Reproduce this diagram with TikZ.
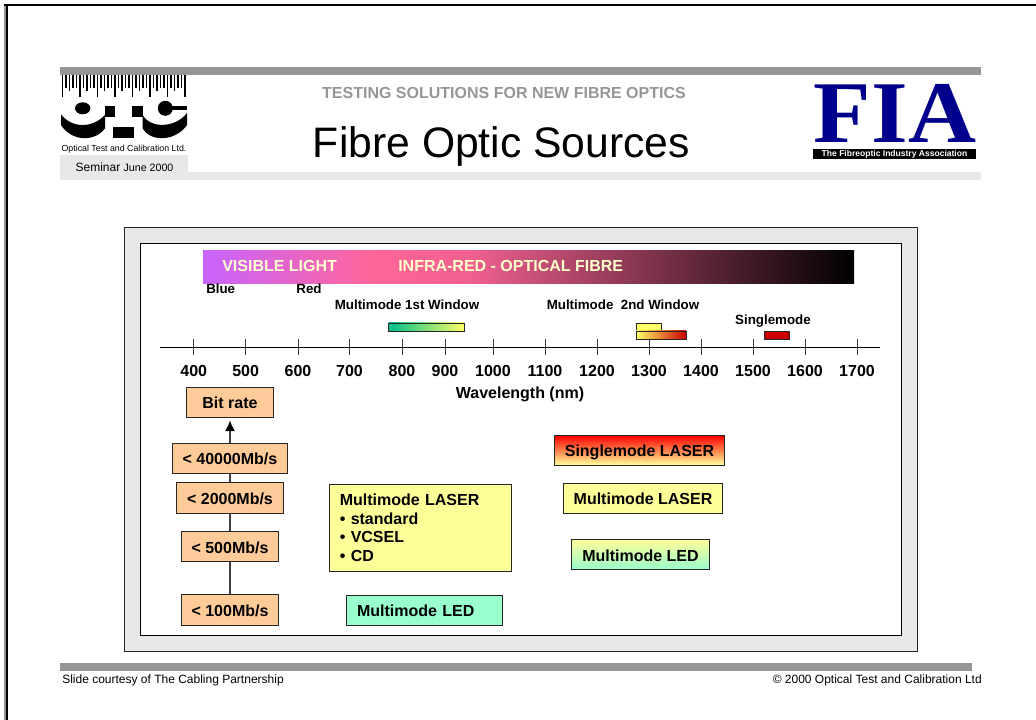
\documentclass[tikz,border=0pt]{standalone}
\usepackage{fontspec}
\setmainfont{Liberation Sans}
\newfontfamily\fiafont{Liberation Serif}
\usetikzlibrary{calc,positioning,arrows,arrows.meta}
\definecolor{barGray}{HTML}{969696}
\definecolor{paleGray}{HTML}{E8E8E8}
\definecolor{rateOrange}{HTML}{FFCC99}
\definecolor{paleYellow}{HTML}{FFFF99}
\definecolor{paleGreen}{HTML}{99FFCC}
\definecolor{fiaBlue}{HTML}{00008C}
\definecolor{winRed}{HTML}{CC0000}
\definecolor{winYellow}{HTML}{FFFF66}
\definecolor{winGreen}{HTML}{00C08C}
\definecolor{lightText}{HTML}{FFFFCC}
\pgfdeclarehorizontalshading{spectrum}{100bp}{rgb(0bp)=(0.784,0.392,1);
  rgb(25bp)=(0.784,0.392,1);rgb(38bp)=(1,0.4,0.6);
  rgb(45.5bp)=(0.94,0.376,0.565);rgb(75bp)=(0,0,0);rgb(100bp)=(0,0,0)}
\tikzset{sz/.style 2 args={minimum width=#1*0.75pt,minimum height=#2*0.75pt},
  plainbox/.style={draw=black!85,line width=0.65pt,inner sep=0pt,text height=10pt,text depth=0pt,font=\bfseries\fontsize{12}{14}\selectfont},
  ratebox/.style={plainbox,fill=rateOrange},
  laserbox/.style={plainbox,fill=paleYellow},
  ledbox/.style={plainbox,fill=paleGreen},
  winbox/.style={draw=black!85,line width=0.65pt,inner sep=0pt},
  lbl/.style={inner sep=0pt,font=\bfseries\fontsize{10}{12}\selectfont},
  axislbl/.style={inner sep=0pt,font=\bfseries\fontsize{12}{14}\selectfont},
  speclbl/.style={inner sep=0pt,anchor=west,text=lightText,font=\bfseries\fontsize{12}{14}\selectfont},
  foot/.style={inner sep=0pt,font=\fontsize{9}{11}\selectfont}}
\begin{document}
\begin{tikzpicture}[x=0.75pt,y=-0.75pt]
  \useasboundingbox (0,0) rectangle (1036,720);
  % page edge
  \fill[barGray] (4,4) rectangle (6,720);
  \fill[black] (6,4) rectangle (8,720);
  \fill[black] (4,4) rectangle (1036,6);
  % header
  \fill[barGray] (60,67) rectangle (981,75);
  \fill[paleGray] (60,172) rectangle (981,180);
  \fill[paleGray] (60,155) rectangle (188,180);
  \node[inner sep=0pt,font=\bfseries\fontsize{12}{14}\selectfont,text=barGray] (subtitle) at (504,92.5) {TESTING SOLUTIONS FOR NEW FIBRE OPTICS};
  \node[inner sep=0pt,font=\fontsize{32}{36}\selectfont] (title) at (501.5,146) {Fibre Optic Sources};
  % OTC logo
  \foreach \i in {0,...,35}
   {\pgfmathsetmacro\toothlen{mod(\i,5)==0?22:(mod(\i,5)==2?16:13)}
    \draw[line width=1.05pt] ({62.6+\i*3.5},75)--++(0,\toothlen);
   }
  \fill (82.7,108.3) ellipse (7.7 and 6);
  \fill (165.3,108.3) circle (7.5);
  \fill (165.3,106) rectangle (186.7,110);
  \fill (105,105.7) rectangle (115,116.7);
  \fill (132,105.7) rectangle (142.7,116.7);
  \fill (113,126.7) rectangle (134,138.3);
  \fill (61,114.3) .. controls (72,128.5) and (92,128.5) .. (105,115) -- (105,128.3) .. controls (95,142) and (72,142) .. (61,125) -- cycle;
  \fill (187,113) .. controls (175,128.5) and (150,128.5) .. (142.7,115) -- (142.7,128.3) .. controls (150,142) and (175,142) .. (187,125) -- cycle;
  \node[inner sep=0pt,font=\fontsize{6.6}{8}\selectfont] (otcname) at (124,149.5) {Optical Test and Calibration Ltd.};
  \node[inner sep=0pt] (seminar) at (124.5,167) {\fontsize{9}{11}\selectfont Seminar \fontsize{8}{11}\selectfont June 2000};
  % FIA logo
  \node[inner sep=0pt,text=fiaBlue,anchor=south,xscale=1.07,text depth=0pt,font=\fiafont\bfseries\fontsize{66}{70}\selectfont] (fia) at (895,142.5) {FIA};
  \node[fill=black,text=white,inner sep=0pt,sz={163}{10.5},font=\bfseries\fontsize{6.4}{8}\selectfont] (fianame) at (894.5,153.8) {The Fibreoptic Industry Association};
  % panel
  \draw[black!85,line width=0.65pt,fill=paleGray] (124,227) rectangle (917,651);
  \draw[black,line width=0.65pt,fill=white] (140.5,243.5) rectangle (901,635);
  \shade[shading=spectrum] (203,251) rectangle (854,284);
  \node[speclbl] (visible) at (222,266) {VISIBLE LIGHT};
  \node[speclbl] (infrared) at (398,266) {INFRA-RED - OPTICAL FIBRE};
  \node[lbl] (blue) at (220.7,288.5) {Blue};
  \node[lbl] (red) at (309,288.5) {Red};
  \node[lbl] (first) at (407,304.5) {Multimode 1st Window};
  \node[lbl] (second) at (623,304.5) {Multimode\ \ 2nd Window};
  \node[lbl] (single) at (773,321) {Singlemode};
  % wavelength axis
  \coordinate (axl) at (160,347);
  \coordinate (axr) at (880,347);
  \draw[line width=0.65pt] (axl)--(axr);
  \foreach \wl/\x in {400/193.7,500/245.7,600/298,700/349.5,800/402,900/445,1000/493,1100/545,1200/597,1300/649,1400/701,1500/753,1600/805,1700/857}
   {\coordinate (ta\wl) at (\x,339);
    \coordinate (tb\wl) at (\x,355);
    \draw[line width=0.6pt,black!75] (ta\wl)--(tb\wl);
    \node[axislbl] (l\wl) at (\x,371) {\wl};
   }
  \node[axislbl] (wavelength) at (520,394.5) {Wavelength (nm)};
  \node[winbox,sz={76}{8},left color=winGreen,right color=winYellow] (win1) at (426.5,327) {};
  \node[winbox,sz={25.5}{8},fill=winYellow] (win2a) at (649,327) {};
  \node[winbox,sz={50}{8},left color=winYellow,right color=winRed] (win2b) at (661.2,335) {};
  \node[winbox,sz={25.5}{8},fill=winRed] (win3) at (776.8,335) {};
  % bit rate column
  \node[ratebox,sz={87}{30.5}] (bitrate) at (230,402.2) {Bit rate};
  \node[ratebox,sz={115}{29.5}] (r40000) at (230,458.2) {< 40000Mb/s};
  \node[ratebox,sz={106.5}{30.5}] (r2000) at (230,497.7) {< 2000Mb/s};
  \node[ratebox,sz={97.5}{30}] (r500) at (230,546.5) {< 500Mb/s};
  \node[ratebox,sz={97}{30.5}] (r100) at (230,609.7) {< 100Mb/s};
  \draw[black!75,line width=1pt] (r100)--(r500) (r500)--(r2000) (r2000)--(r40000);
  \draw[black!75,line width=1pt,-{Latex[length=8pt,width=7.5pt,color=black]},shorten >=1.9pt] (r40000)--(bitrate);
  % sources
  \node[laserbox,sz={182}{87.5},align=left,text width=121pt,text height=,text depth=,font=\bfseries\fontsize{12}{14.1}\selectfont] (mmlaserb) at (420.5,527.8)
    {Multimode LASER\\\textbullet\ standard\\\textbullet\ VCSEL\\\textbullet\ CD};
  \node[ledbox,sz={156}{29.5},align=left,text width=101.25pt] (mmleda) at (424.5,610.2) {Multimode LED};
  \node[plainbox,sz={170}{29.5},top color=red,bottom color=paleYellow] (smlaser) at (639.5,450.2) {Singlemode LASER};
  \node[laserbox,sz={159}{29.5}] (mmlasera) at (643,498.2) {Multimode LASER};
  \node[plainbox,sz={138}{30},top color=paleYellow,bottom color=paleGreen] (mmledb) at (640.5,554.5) {Multimode LED};
  % footer
  \fill[barGray] (60,663) rectangle (972,671);
  \node[foot,anchor=west] (courtesy) at (62,680) {Slide courtesy of The Cabling Partnership};
  \node[foot,anchor=east] (copyright) at (982,680) {© 2000 Optical Test and Calibration Ltd};
\end{tikzpicture}
\end{document}
